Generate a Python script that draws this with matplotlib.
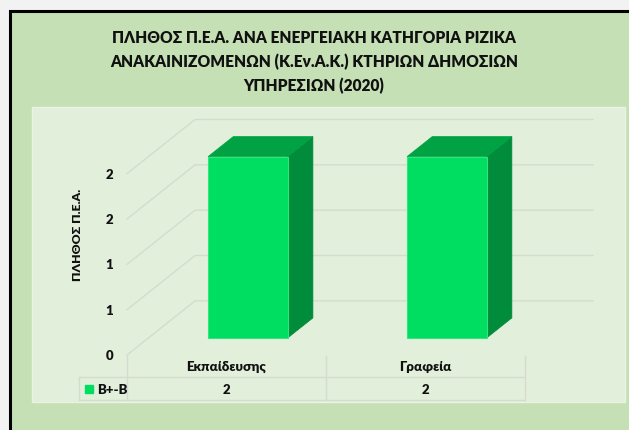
import matplotlib.pyplot as plt
from matplotlib.patches import Polygon, Rectangle
import numpy as np

plt.rcParams['font.family'] = ['Lato', 'Open Sans', 'DejaVu Sans']

# chart data
categories = ['Εκπαίδευσης', 'Γραφεία']
series_name = 'B+-B'
values = [2, 2]
yticks = [0, 0.5, 1, 1.5, 2]
title = ('ΠΛΗΘΟΣ Π.Ε.Α. ΑΝΑ ΕΝΕΡΓΕΙΑΚΗ ΚΑΤΗΓΟΡΙΑ ΡΙΖΙΚΑ\n'
         'ΑΝΑΚΑΙΝΙΖΟΜΕΝΩΝ (Κ.Εν.Α.Κ.) ΚΤΗΡΙΩΝ ΔΗΜΟΣΙΩΝ\n'
         'ΥΠΗΡΕΣΙΩΝ (2020)')
ylabel = 'ΠΛΗΘΟΣ Π.Ε.Α.'

W, H = 629, 431
fig = plt.figure(figsize=(W / 100, H / 100), dpi=100)
fig.patch.set_facecolor('#f2f2f2')

# background frame and inner panel (pixel coordinates)
bg = fig.add_axes([0, 0, 1, 1])
bg.set_xlim(0, W)
bg.set_ylim(H, 0)
bg.axis('off')
bg.add_patch(Rectangle((9.5, 12), W, H, facecolor='#c5e0b4', edgecolor='black', lw=2.2))
bg.add_patch(Rectangle((32, 108), 593, 295, facecolor='#e2efda', edgecolor='#e9f3e3', lw=1))

fig.text(314 / W, 1 - 62 / H, title, ha='center', va='center', fontsize=11.2,
         fontweight='heavy', color='#111111', linespacing=1.55)

# oblique 3d look: depth offset in data units
dx, dy = 0.342, 0.597
ncat = len(categories)
ax = fig.add_axes([127 / W, (H - 356) / H, 466 / W, 235.5 / H])
ax.set_xlim(0, ncat + dx)
ax.set_ylim(0, max(yticks) + dy)
ax.axis('off')

grid_c = '#d5dccf'
for v in yticks:
    ax.plot([0, dx, ncat + dx], [v, v + dy, v + dy], color=grid_c, lw=1, zorder=1,
            clip_on=False)
    lab = str(int(np.floor(v + 0.5)))
    ax.text(-0.07, v, lab, ha='right', va='center', fontsize=9.5, fontweight='heavy',
            color='#111111')

ax.text(-0.251, 1.336, ylabel, rotation=90, ha='center', va='center', fontsize=8.8,
        fontweight='heavy', color='#111111')

# bars
bw = 0.4
f0, f1 = 0.315, 0.685
front_c, top_c, side_c = '#00de62', '#00a244', '#008c3a'
for i, v in enumerate(values):
    x0 = i + 0.5 - bw / 2
    x1 = i + 0.5 + bw / 2
    front = [(x0 + f0 * dx, f0 * dy), (x1 + f0 * dx, f0 * dy),
             (x1 + f0 * dx, v + f0 * dy), (x0 + f0 * dx, v + f0 * dy)]
    top = [(x0 + f0 * dx, v + f0 * dy), (x1 + f0 * dx, v + f0 * dy),
           (x1 + f1 * dx, v + f1 * dy), (x0 + f1 * dx, v + f1 * dy)]
    side = [(x1 + f0 * dx, f0 * dy), (x1 + f1 * dx, f1 * dy),
            (x1 + f1 * dx, v + f1 * dy), (x1 + f0 * dx, v + f0 * dy)]
    ax.add_patch(Polygon(side, closed=True, facecolor=side_c, edgecolor=side_c, lw=0.5, zorder=3))
    ax.add_patch(Polygon(top, closed=True, facecolor=top_c, edgecolor=top_c, lw=0.5, zorder=3))
    ax.add_patch(Polygon(front, closed=True, facecolor=front_c, edgecolor='#33e57f', lw=0.8, zorder=4))

# data table under the chart
px = 1 / 199.0
py = 1 / 90.6
row1 = -22 * py
row2 = -45 * py
left = -48 * px
tab_c = '#d5dccf'
for k in range(ncat + 1):
    ax.plot([k, k], [-1 * py, row2], color=tab_c, lw=1, clip_on=False)
ax.plot([left, ncat], [row1, row1], color=tab_c, lw=1, clip_on=False)
ax.plot([left, ncat], [row2, row2], color=tab_c, lw=1, clip_on=False)
ax.plot([left, left], [row1, row2], color=tab_c, lw=1, clip_on=False)
for i, (c, v) in enumerate(zip(categories, values)):
    ax.text(i + 0.5, -11 * py, c, ha='center', va='center', fontsize=9.5,
            fontweight='heavy', color='#111111')
    ax.text(i + 0.5, -34 * py, str(v), ha='center', va='center', fontsize=9.5,
            fontweight='heavy', color='#111111')
ax.plot([-38 * px], [-34 * py], marker='s', ms=6, color=front_c, clip_on=False)
ax.text(-30 * px, -34 * py, series_name, ha='left', va='center', fontsize=9.5,
        fontweight='heavy', color='#111111')

fig.savefig('out.png', dpi=100, facecolor=fig.get_facecolor())
